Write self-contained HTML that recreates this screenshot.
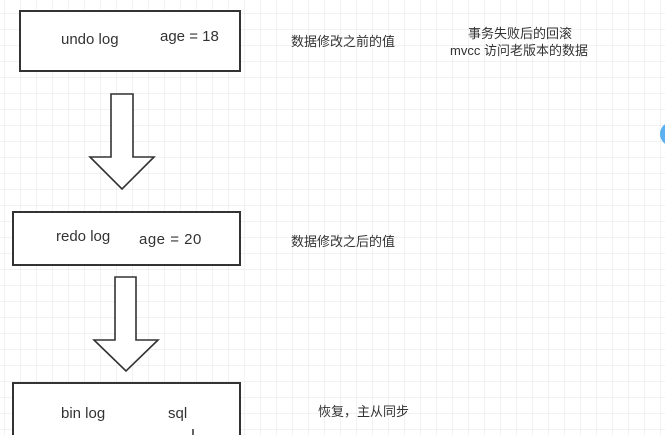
<!DOCTYPE html>
<html><head><meta charset="utf-8"><style>
html,body{margin:0;padding:0;width:665px;height:435px;overflow:hidden;background:#fff}
svg{display:block}
text{font-family:"Liberation Sans","Noto Sans CJK SC",sans-serif;fill:#333;font-size:13px}
.b{font-size:15px}
</style></head><body>
<svg width="665" height="435" xmlns="http://www.w3.org/2000/svg">
<defs>
<pattern id="g" x="4" y="13" width="16" height="16" patternUnits="userSpaceOnUse">
<path d="M0 0H16M0 0V16" stroke="#e6e6e6" stroke-width="1" fill="none"/>
</pattern>
</defs>
<rect width="665" height="435" fill="url(#g)"/>
<rect x="20" y="11" width="220" height="60" fill="#fff" stroke="#333" stroke-width="2"/>
<text class="b" x="61" y="44">undo log</text>
<text class="b" x="160" y="41">age = 18</text>
<path d="M111 94H133V157H154L122 189L90 157H111Z" fill="#fff" stroke="#333" stroke-width="1.6"/>
<rect x="13" y="212" width="227" height="53" fill="#fff" stroke="#333" stroke-width="2"/>
<text class="b" x="56" y="241">redo log</text>
<text class="b" x="139" y="244" style="letter-spacing:0.5px">age = 20</text>
<path d="M115 277H136V340H158L126 371L94 340H115Z" fill="#fff" stroke="#333" stroke-width="1.6"/>
<rect x="13" y="383" width="227" height="60" fill="#fff" stroke="#333" stroke-width="2"/>
<text class="b" x="61" y="418">bin log</text>
<text class="b" x="168" y="418">sql</text>
<line x1="193" y1="429" x2="193" y2="435" stroke="#333" stroke-width="1.5"/>
<text x="291" y="46">数据修改之前的值</text>
<text x="291" y="246">数据修改之后的值</text>
<text x="318" y="416">恢复，主从同步</text>
<text x="468" y="38">事务失败后的回滚</text>
<text x="450" y="55">mvcc 访问老版本的数据</text>
<circle cx="672" cy="134" r="12" fill="#5ab0f0"/>
</svg>
</body></html>
